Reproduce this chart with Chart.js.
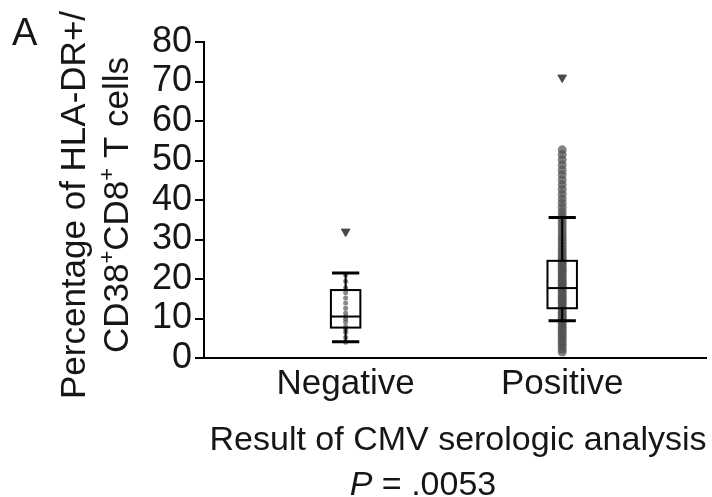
<!DOCTYPE html>
<html>
<head>
<meta charset="utf-8">
<script src="https://cdn.jsdelivr.net/npm/chart.js@4.4.1/dist/chart.umd.min.js"></script>
<style>
  html, body { margin: 0; padding: 0; background: #ffffff; }
  canvas { display: block; }
</style>
</head>
<body>
<canvas id="cmvChart" width="712" height="497"></canvas>
<script>
// Groups on the x axis and where they sit
const categories = ['Negative', 'Positive'];
const positions = [1, 2];

// Box summary per group
const whiskerLow = [4.1, 9.4];
const q1 = [7.7, 12.6];
const median = [10.5, 17.7];
const q3 = [17.2, 24.6];
const whiskerHigh = [21.5, 35.6];
const outliers = [[32], [71]];

// Individual observations
const negativeValues = [4.0, 5.2, 6.5, 7.3, 8.0, 9.1, 9.8, 10.5, 11.4, 12.6, 13.9, 15.2, 16.5, 17.8, 19.4, 21.0];
const positiveValues = [1.5, 2.2, 3.0, 3.6, 4.3, 5.0, 5.6, 6.2, 6.9, 7.5, 8.1, 8.8, 9.4, 10.0, 10.5, 11.1,
  11.6, 12.2, 12.7, 13.3, 13.8, 14.3, 14.9, 15.4, 15.9, 16.5, 17.0, 17.6, 18.1, 18.6, 19.2, 19.7, 20.3,
  20.8, 21.4, 21.9, 22.5, 23.0, 23.6, 24.2, 24.8, 25.4, 26.1, 26.8, 27.5, 28.2, 29.0, 29.8, 30.6, 31.4,
  32.3, 33.2, 34.1, 35.0, 36.0, 37.0, 38.1, 39.2, 40.3, 41.5, 42.7, 43.9, 45.1, 46.4, 47.6, 48.9, 50.2,
  51.5, 52.7];

const yTicks = [0, 10, 20, 30, 40, 50, 60, 70, 80];

const FONT = '"Liberation Sans", Arial, Helvetica, sans-serif';
const INK = '#161616';

// Boxes, medians and whiskers drawn on top of the dot columns
const boxPlotPlugin = {
  id: 'boxPlot',
  afterDatasetsDraw(chart) {
    const { ctx, scales: { x, y } } = chart;
    ctx.save();
    ctx.strokeStyle = '#000';
    positions.forEach((pos, i) => {
      const left = x.getPixelForValue(pos - 0.068);
      const right = x.getPixelForValue(pos + 0.068);
      const cx = x.getPixelForValue(pos);
      const capL = x.getPixelForValue(pos - 0.063);
      const capR = x.getPixelForValue(pos + 0.063);

      // whisker stems
      ctx.lineWidth = 2;
      ctx.beginPath();
      ctx.moveTo(cx, y.getPixelForValue(whiskerHigh[i]));
      ctx.lineTo(cx, y.getPixelForValue(q3[i]));
      ctx.moveTo(cx, y.getPixelForValue(q1[i]));
      ctx.lineTo(cx, y.getPixelForValue(whiskerLow[i]));
      ctx.stroke();

      // whisker caps
      ctx.lineWidth = 3;
      ctx.beginPath();
      [whiskerHigh[i], whiskerLow[i]].forEach(v => {
        const py = y.getPixelForValue(v);
        ctx.moveTo(capL, py);
        ctx.lineTo(capR, py);
      });
      ctx.stroke();

      // box and median
      ctx.lineWidth = 2;
      const top = y.getPixelForValue(q3[i]);
      const bottom = y.getPixelForValue(q1[i]);
      ctx.strokeRect(left, top, right - left, bottom - top);
      const my = y.getPixelForValue(median[i]);
      ctx.beginPath();
      ctx.moveTo(left, my);
      ctx.lineTo(right, my);
      ctx.stroke();
    });
    ctx.restore();
  }
};

// Panel letter, axis titles and the p value
const labelsPlugin = {
  id: 'figureLabels',
  afterDraw(chart) {
    const { ctx, chartArea } = chart;
    ctx.save();
    ctx.fillStyle = INK;

    ctx.font = '38px ' + FONT;
    ctx.textAlign = 'left';
    ctx.textBaseline = 'alphabetic';
    ctx.fillText('A', 12, 45);

    // rotated y title, second line with superscript plus signs
    const midY = (chartArea.top + chartArea.bottom) / 2 + 5;
    ctx.save();
    ctx.translate(0, midY);
    ctx.rotate(-Math.PI / 2);
    ctx.textAlign = 'center';
    ctx.font = '35px ' + FONT;
    ctx.fillText('Percentage of HLA-DR+/', 0, 85);

    const parts = [['CD38', false], ['+', true], ['CD8', false], ['+', true], [' T cells', false]];
    const mainFont = '35px ' + FONT;
    const supFont = '22px ' + FONT;
    let total = 0;
    parts.forEach(([t, sup]) => {
      ctx.font = sup ? supFont : mainFont;
      total += ctx.measureText(t).width;
    });
    let px = -total / 2;
    ctx.textAlign = 'left';
    parts.forEach(([t, sup]) => {
      ctx.font = sup ? supFont : mainFont;
      ctx.fillText(t, px, sup ? 114 : 128);
      px += ctx.measureText(t).width;
    });
    ctx.restore();

    // x title
    ctx.textAlign = 'center';
    ctx.textBaseline = 'middle';
    ctx.font = '34px ' + FONT;
    ctx.fillText('Result of CMV serologic analysis', 458, 441);

    // p value with italic P
    ctx.textAlign = 'left';
    ctx.font = 'italic 34px ' + FONT;
    const pW = ctx.measureText('P').width;
    ctx.font = '34px ' + FONT;
    const rest = ' = .0053';
    const rW = ctx.measureText(rest).width;
    const startX = 423 - (pW + rW) / 2;
    ctx.font = 'italic 34px ' + FONT;
    ctx.fillText('P', startX, 486);
    ctx.font = '34px ' + FONT;
    ctx.fillText(rest, startX + pW, 486);
    ctx.restore();
  }
};

const toPoints = (pos, values) => values.map(v => ({ x: pos, y: v }));

new Chart(document.getElementById('cmvChart'), {
  type: 'scatter',
  data: {
    datasets: [
      {
        label: categories[0],
        data: toPoints(positions[0], negativeValues),
        pointRadius: 2.5,
        pointBackgroundColor: 'rgba(85,85,85,0.7)',
        pointBorderWidth: 0
      },
      {
        label: categories[1],
        data: toPoints(positions[1], positiveValues),
        pointRadius: 4.5,
        pointBackgroundColor: 'rgba(80,80,80,0.7)',
        pointBorderWidth: 0
      },
      {
        label: 'Outliers',
        data: positions.flatMap((pos, i) => toPoints(pos, outliers[i])),
        pointStyle: 'triangle',
        rotation: 180,
        pointRadius: 5,
        pointBackgroundColor: '#4a4a4a',
        pointBorderColor: '#4a4a4a',
        pointBorderWidth: 1
      }
    ]
  },
  options: {
    responsive: false,
    animation: false,
    devicePixelRatio: 1,
    layout: { padding: { left: 0, right: 5, top: 42, bottom: 0 } },
    plugins: {
      legend: { display: false },
      tooltip: { enabled: false }
    },
    scales: {
      x: {
        type: 'linear',
        min: 0.346,
        max: 2.664,
        afterBuildTicks: scale => { scale.ticks = positions.map(v => ({ value: v })); },
        afterFit: scale => { scale.height = 139; },
        ticks: {
          padding: -3,
          autoSkip: false,
          maxRotation: 0,
          color: INK,
          font: { family: FONT, size: 35 },
          callback: v => categories[positions.indexOf(v)] ?? ''
        },
        grid: { display: false },
        border: { display: true, color: '#000', width: 2 }
      },
      y: {
        min: 0,
        max: 80,
        afterBuildTicks: scale => { scale.ticks = yTicks.map(v => ({ value: v })); },
        afterFit: scale => { scale.width = 204; },
        ticks: {
          padding: 3,
          autoSkip: false,
          color: INK,
          font: { family: FONT, size: 36 }
        },
        grid: {
          drawOnChartArea: false,
          tickLength: 9,
          tickColor: '#000',
          lineWidth: 2
        },
        border: { display: true, color: '#000', width: 2 }
      }
    }
  },
  plugins: [boxPlotPlugin, labelsPlugin]
});
</script>
</body>
</html>
